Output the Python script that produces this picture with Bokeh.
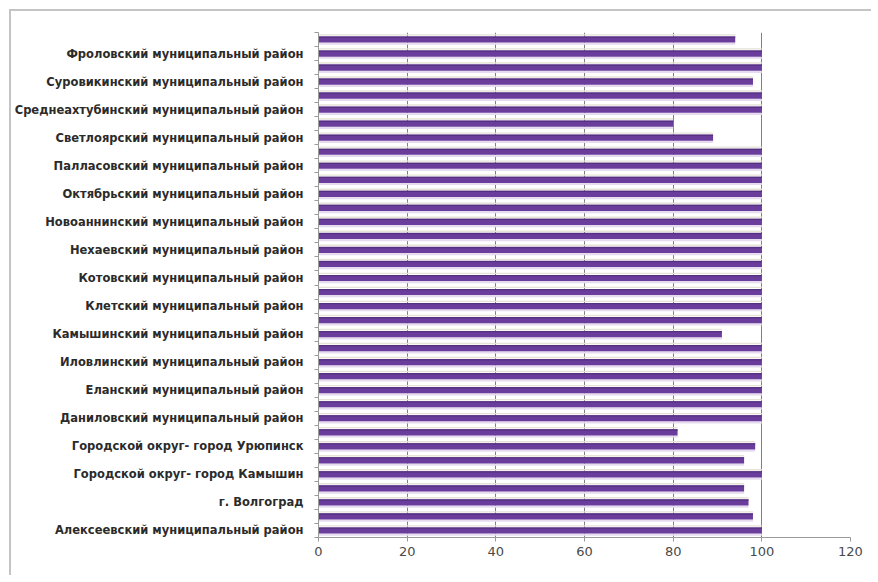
from bokeh.plotting import figure
from bokeh.models import FixedTicker, Range1d
from bokeh.embed import file_html
from bokeh.resources import INLINE

# Categories listed bottom-up (as drawn); only every other one is labelled on the axis
districts = [
    "Алексеевский муниципальный район",
    "Быковский муниципальный район",
    "г. Волгоград",
    "Городской округ- город Волжский",
    "Городской округ- город Камышин",
    "Городской округ- город Михайловка",
    "Городской округ- город Урюпинск",
    "Городской округ- город Фролово",
    "Даниловский муниципальный район",
    "Дубовский муниципальный район",
    "Еланский муниципальный район",
    "Жирновский муниципальный район",
    "Иловлинский муниципальный район",
    "Калачевский муниципальный район",
    "Камышинский муниципальный район",
    "Киквидзенский муниципальный район",
    "Клетский муниципальный район",
    "Котельниковский муниципальный район",
    "Котовский муниципальный район",
    "Кумылженский муниципальный район",
    "Нехаевский муниципальный район",
    "Николаевский муниципальный район",
    "Новоаннинский муниципальный район",
    "Новониколаевский муниципальный район",
    "Октябрьский муниципальный район",
    "Ольховский муниципальный район",
    "Палласовский муниципальный район",
    "Руднянский муниципальный район",
    "Светлоярский муниципальный район",
    "Серафимовичский муниципальный район",
    "Среднеахтубинский муниципальный район",
    "Старополтавский муниципальный район",
    "Суровикинский муниципальный район",
    "Урюпинский муниципальный район",
    "Фроловский муниципальный район",
    "Чернышковский муниципальный район",
]
values = [100, 98, 97, 96, 100, 96, 98.5, 81, 100, 100,
          100, 100, 100, 100, 91, 100, 100, 100, 100, 100,
          100, 100, 100, 100, 100, 100, 100, 100, 89, 80,
          100, 100, 98, 100, 100, 94]
x_ticks = [0, 20, 40, 60, 80, 100, 120]

positions = list(range(1, len(districts) + 1))
label_positions = positions[::2]
label_map = {pos: districts[pos - 1] for pos in label_positions}

p = figure(width=862, height=566, output_backend="svg", toolbar_location=None,
           x_range=Range1d(0, 120), y_range=Range1d(0.5, len(districts) + 0.5),
           min_border_left=303, min_border_right=23, min_border_top=21,
           min_border_bottom=40)
p.styles = {"margin-left": "9px", "margin-top": "9px",
            "border-left": "2px solid #C4C4C4", "border-top": "2px solid #C4C4C4"}
p.outline_line_color = None
p.background_fill_color = "white"
p.border_fill_color = "white"

# soft shadow strips around the bars
p.hbar(y=[y - 0.30 for y in positions], right=values, left=0, height=0.16,
       fill_color="#E6DCEF", line_color=None)
p.hbar(y=[y + 0.33 for y in positions], right=values, left=0, height=0.10,
       fill_color="#E6E2D8", line_color=None)
# main bars
p.hbar(y=positions, right=values, left=0, height=0.44,
       fill_color="#6A3D9D", line_color=None)
p.hbar(y=[y + 0.17 for y in positions], right=values, left=0, height=0.09,
       fill_color="#55307F", line_color=None)

# x axis
p.xaxis.ticker = FixedTicker(ticks=x_ticks)
p.xaxis.axis_line_color = "#9A9A9A"
p.xaxis.major_tick_line_color = "#9A9A9A"
p.xaxis.major_tick_in = 0
p.xaxis.major_tick_out = 4
p.xaxis.minor_tick_line_color = None
p.xaxis.major_label_text_font = "DejaVu Sans"
p.xaxis.major_label_text_font_size = "13px"
p.xaxis.major_label_text_color = "#4A4A4A"
p.xaxis.major_label_standoff = 5

# y axis
p.yaxis.ticker = FixedTicker(ticks=label_positions,
                             minor_ticks=[y - 0.5 for y in positions] + [len(districts) + 0.5])
p.yaxis.major_label_overrides = label_map
p.yaxis.axis_line_color = "#9A9A9A"
p.yaxis.major_tick_line_color = None
p.yaxis.minor_tick_line_color = "#9A9A9A"
p.yaxis.minor_tick_in = 0
p.yaxis.minor_tick_out = 4
p.yaxis.major_label_text_font = "DejaVu Sans"
p.yaxis.major_label_text_font_style = "bold"
p.yaxis.major_label_text_font_size = "11.5px"
p.yaxis.major_label_text_color = "#2B2B2B"
p.yaxis.major_label_standoff = 9

# grid
p.xgrid.ticker = FixedTicker(ticks=x_ticks[1:])
p.xgrid.grid_line_color = "#808080"
p.xgrid.grid_line_width = 1
p.ygrid.grid_line_color = None

open("out.html", "w").write(file_html(p, INLINE))
